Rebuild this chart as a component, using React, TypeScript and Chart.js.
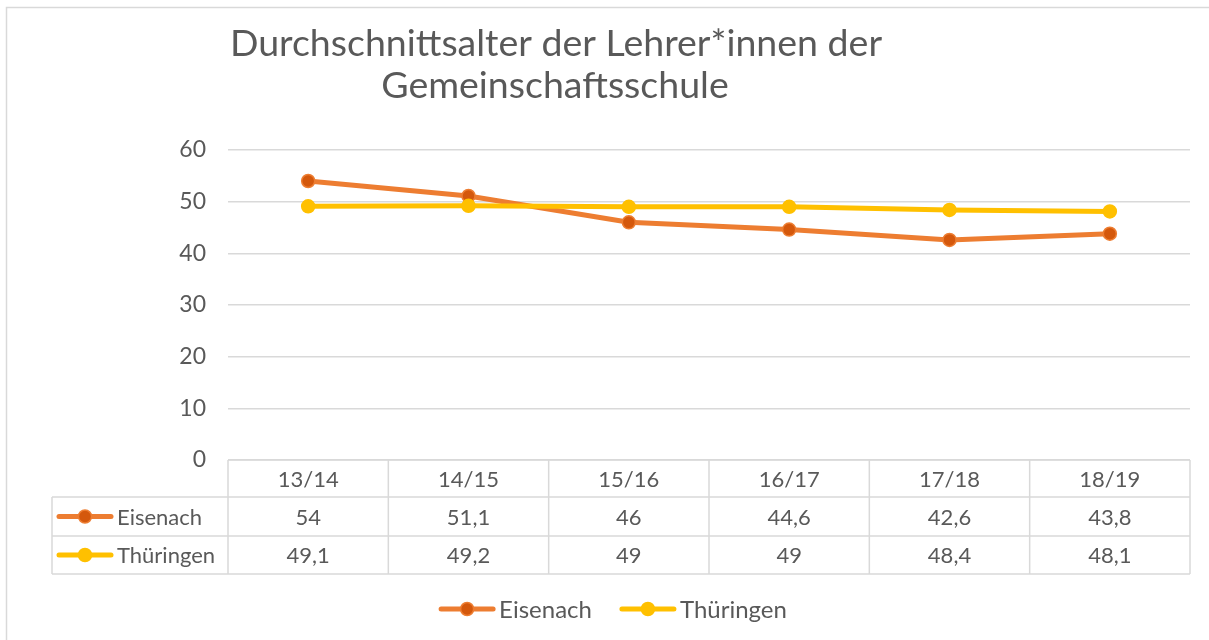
import React, { useEffect, useRef } from "react";
import { Chart, registerables } from "chart.js";

Chart.register(...registerables);

const categories = ["13/14", "14/15", "15/16", "16/17", "17/18", "18/19"];
const eisenach = [54, 51.1, 46, 44.6, 42.6, 43.8];
const thueringen = [49.1, 49.2, 49, 49, 48.4, 48.1];
const seriesNames = ["Eisenach", "Thüringen"];
const titleLines = ["Durchschnittsalter der Lehrer*innen der", "Gemeinschaftsschule"];

const ORANGE = "#ED7D31";
const ORANGE_DOT = "#D4580C";
const YELLOW = "#FFC000";
const GRID = "#D9D9D9";
const TEXT = "#595959";
const FONT = "Lato, 'Open Sans', sans-serif";

const fmt = (v: number) => String(v).replace(".", ",");

function drawMarker(ctx: CanvasRenderingContext2D, x0: number, x1: number, y: number, line: string, dot: string) {
  ctx.save();
  ctx.strokeStyle = line;
  ctx.lineWidth = 5;
  ctx.lineCap = "round";
  ctx.beginPath();
  ctx.moveTo(x0 + 2, y);
  ctx.lineTo(x1 - 2, y);
  ctx.stroke();
  ctx.beginPath();
  ctx.arc((x0 + x1) / 2, y, 6.5, 0, Math.PI * 2);
  ctx.fillStyle = dot;
  ctx.fill();
  ctx.lineWidth = 1.5;
  ctx.strokeStyle = line;
  ctx.stroke();
  ctx.restore();
}

const decorPlugin = {
  id: "decor",
  beforeDraw(chart: any) {
    const ctx: CanvasRenderingContext2D = chart.ctx;
    ctx.save();
    ctx.fillStyle = "#FFFFFF";
    ctx.fillRect(0, 0, chart.width, chart.height);
    ctx.strokeStyle = GRID;
    ctx.lineWidth = 1.5;
    ctx.strokeRect(6.5, 7.5, chart.width + 10, chart.height + 10);
    ctx.restore();
  },
  afterDraw(chart: any) {
    const ctx: CanvasRenderingContext2D = chart.ctx;
    const xs = chart.scales.x;
    const area = chart.chartArea;
    const n = categories.length;
    const cw = (area.right - area.left) / n;
    const top = area.bottom;
    const rows = [top, 497, 536, 574];
    const leftX = 52;

    ctx.save();
    // title
    ctx.fillStyle = TEXT;
    ctx.font = `37.5px ${FONT}`;
    ctx.textAlign = "center";
    ctx.textBaseline = "alphabetic";
    ctx.fillText(titleLines[0], 556, 56);
    ctx.fillText(titleLines[1], 555, 98);

    // table lines
    ctx.strokeStyle = GRID;
    ctx.lineWidth = 1.5;
    ctx.beginPath();
    ctx.moveTo(area.left, rows[0]);
    ctx.lineTo(area.right, rows[0]);
    for (let r = 1; r < rows.length; r++) {
      ctx.moveTo(leftX, rows[r]);
      ctx.lineTo(area.right, rows[r]);
    }
    for (let i = 0; i <= n; i++) {
      const x = area.left + i * cw;
      ctx.moveTo(x, rows[0]);
      ctx.lineTo(x, rows[3]);
    }
    ctx.moveTo(leftX, rows[1]);
    ctx.lineTo(leftX, rows[3]);
    ctx.stroke();

    // table text
    ctx.fillStyle = TEXT;
    ctx.font = `22px ${FONT}`;
    ctx.textAlign = "center";
    ctx.textBaseline = "middle";
    const data = [eisenach, thueringen];
    categories.forEach((c, i) => {
      const x = xs.getPixelForValue(i);
      ctx.fillText(c, x, (rows[0] + rows[1]) / 2 + 1);
      ctx.fillText(fmt(data[0][i]), x, (rows[1] + rows[2]) / 2 + 1);
      ctx.fillText(fmt(data[1][i]), x, (rows[2] + rows[3]) / 2 + 1);
    });
    // row labels
    const cols = [[ORANGE, ORANGE_DOT], [YELLOW, YELLOW]];
    ctx.textAlign = "left";
    seriesNames.forEach((s, k) => {
      const y = (rows[k + 1] + rows[k + 2]) / 2;
      drawMarker(ctx, 57, 113, y, cols[k][0], cols[k][1]);
      ctx.fillStyle = TEXT;
      ctx.fillText(s, 117, y + 1);
    });

    // bottom legend
    ctx.font = `24px ${FONT}`;
    const ly = 609;
    const items = seriesNames.map((s) => ({ s, w: 56 + 4 + ctx.measureText(s).width }));
    const gap = 28;
    const total = items.reduce((a, b) => a + b.w, 0) + gap;
    let x = 613 - total / 2;
    items.forEach((it, k) => {
      drawMarker(ctx, x, x + 56, ly, cols[k][0], cols[k][1]);
      ctx.fillStyle = TEXT;
      ctx.fillText(it.s, x + 60, ly + 1);
      x += it.w + gap;
    });
    ctx.restore();
  },
};

export default function App() {
  const ref = useRef<HTMLCanvasElement | null>(null);
  useEffect(() => {
    let chart: Chart | null = null;
    let cancelled = false;
    const make = () => {
      if (cancelled || !ref.current) return;
      chart = new Chart(ref.current, {
        type: "line",
        data: {
          labels: categories,
          datasets: [
            {
              label: seriesNames[0],
              data: eisenach,
              borderColor: ORANGE,
              backgroundColor: ORANGE_DOT,
              pointBackgroundColor: ORANGE_DOT,
              pointBorderColor: ORANGE,
              borderWidth: 5,
              pointRadius: 6.5,
              pointBorderWidth: 1.5,
              tension: 0,
              order: 1,
            },
            {
              label: seriesNames[1],
              data: thueringen,
              borderColor: YELLOW,
              backgroundColor: YELLOW,
              pointBackgroundColor: YELLOW,
              pointBorderColor: YELLOW,
              borderWidth: 5,
              pointRadius: 6.5,
              pointBorderWidth: 1.5,
              tension: 0,
              order: 0,
            },
          ],
        },
        options: {
          responsive: false,
          animation: false,
          layout: { padding: { left: 0, top: 150, right: 19, bottom: 180 } },
          plugins: { legend: { display: false }, title: { display: false }, tooltip: { enabled: false } },
          scales: {
            x: {
              display: false,
              offset: true,
            },
            y: {
              min: 0,
              max: 60,
              ticks: {
                stepSize: 10,
                color: TEXT,
                font: { family: FONT, size: 23 },
                padding: 22,
              },
              grid: { color: GRID, lineWidth: 1.5, drawTicks: false },
              border: { display: false },
              afterFit: (s: any) => {
                s.width = 228;
              },
            },
          },
        },
        plugins: [decorPlugin],
      });
    };
    const fontsApi: any = (document as any).fonts;
    if (fontsApi && fontsApi.load) {
      Promise.all([fontsApi.load("20px Lato"), fontsApi.load("33px Lato")]).then(make, make);
    } else {
      make();
    }
    return () => {
      cancelled = true;
      if (chart) chart.destroy();
    };
  }, []);
  return (
    <div style={{ position: "absolute", left: 0, top: 0, width: 1209, height: 640 }}>
      <canvas ref={ref} width={1209} height={640} style={{ display: "block" }} />
    </div>
  );
}
